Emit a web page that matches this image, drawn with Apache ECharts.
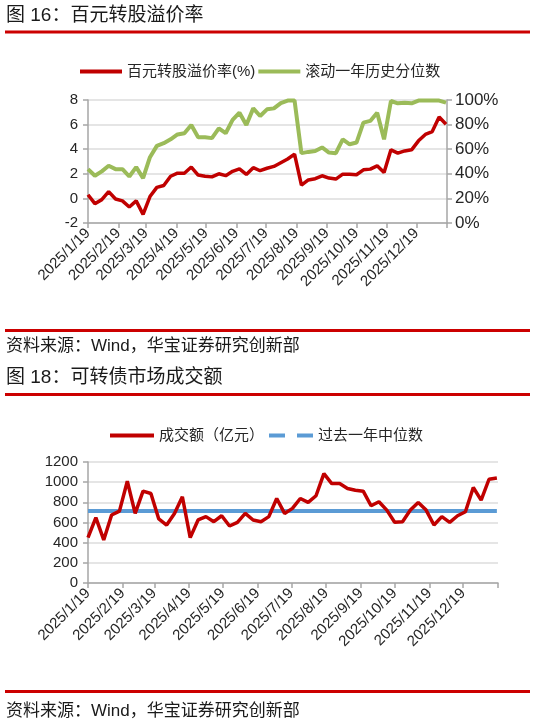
<!DOCTYPE html>
<html>
<head>
<meta charset="utf-8">
<script src="https://cdn.jsdelivr.net/npm/echarts@6/dist/echarts.min.js"></script>
<style>
html,body{margin:0;padding:0;background:#fff;}
#c{width:534px;height:721px;}
</style>
</head>
<body>
<div id="c"></div>
<script>
// ---- data ----
const dates = [
 '2025-01-19','2025-01-26','2025-02-02','2025-02-09','2025-02-16','2025-02-23',
 '2025-03-02','2025-03-09','2025-03-16','2025-03-23','2025-03-30',
 '2025-04-06','2025-04-13','2025-04-20','2025-04-27',
 '2025-05-04','2025-05-11','2025-05-18','2025-05-25',
 '2025-06-01','2025-06-08','2025-06-15','2025-06-22','2025-06-29',
 '2025-07-06','2025-07-13','2025-07-20','2025-07-27',
 '2025-08-03','2025-08-10','2025-08-17','2025-08-24','2025-08-31',
 '2025-09-07','2025-09-14','2025-09-21','2025-09-28',
 '2025-10-05','2025-10-12','2025-10-19','2025-10-26',
 '2025-11-02','2025-11-09','2025-11-16','2025-11-23','2025-11-30',
 '2025-12-07','2025-12-14','2025-12-21','2025-12-28',
 '2026-01-04','2026-01-11','2026-01-18'
];
// 百元转股溢价率 (%)
const premium = [0.3,-0.43,-0.1,0.55,-0.05,-0.2,-0.7,-0.2,-1.3,0.15,0.9,1.05,1.8,2.05,2.05,2.55,1.9,1.8,1.75,2.0,1.85,2.2,2.4,1.95,2.5,2.25,2.45,2.6,2.9,3.2,3.6,1.08,1.5,1.6,1.84,1.65,1.57,1.97,1.97,1.92,2.32,2.38,2.65,2.1,3.95,3.68,3.86,3.95,4.68,5.2,5.43,6.62,6.03];
// 滚动一年历史分位数 (%)
const percentile = [43.8,38.4,42,46.5,43.8,43.8,37.8,45.4,36.5,53.5,62.7,64.9,68,72,73,79.7,69.7,69.7,69,77,73,83.8,89.7,79.7,93.2,87,92.4,93.2,97.5,99.5,99.5,56.8,57.8,58.6,61.4,57.3,56.8,68,64,65.4,81.6,83,89.7,68,99.2,97.3,97.8,97.3,99.5,99.5,99.5,99.5,97.8];
// 成交额（亿元）
const volume = [450,648,427,674,713,1009,690,911,888,635,575,690,855,450,625,658,608,667,565,602,690,625,608,658,838,690,740,838,799,865,1085,986,986,937,920,911,766,806,723,602,608,723,799,723,575,658,602,667,707,947,822,1029,1042];
// 过去一年中位数
const medianValue = 715;
// x tick dates and labels
const tickDates = ['2025-01-19','2025-02-19','2025-03-19','2025-04-19','2025-05-19','2025-06-19','2025-07-19','2025-08-19','2025-09-19','2025-10-19','2025-11-19','2025-12-19','2026-01-19'];
const tickLabels = ['2025/1/19','2025/2/19','2025/3/19','2025/4/19','2025/5/19','2025/6/19','2025/7/19','2025/8/19','2025/9/19','2025/10/19','2025/11/19','2025/12/19'];
const leftTicks1 = [-2,0,2,4,6,8];
const rightTicks1 = [0,20,40,60,80,100];
const yTicks2 = [0,200,400,600,800,1000,1200];

// ---- helpers: dates -> day number since first tick ----
function dayNum(s){ const p = s.split('-').map(Number); return Math.round(Date.UTC(p[0], p[1]-1, p[2]) / 86400000); }
const day0 = dayNum(tickDates[0]);
function dx(s){ return dayNum(s) - day0; }
const tickX = tickDates.map(dx);
const labelX = tickX.slice(0, tickLabels.length);
function fmtX(v){ const i = tickX.indexOf(Math.round(v)); return i >= 0 && i < tickLabels.length ? tickLabels[i] : ''; }

const RED = '#c00000', GREEN = '#9bbb59', BLUE = '#5b9bd5';
const AXIS = '#a6a6a6', GRID = '#dcdcdc', TXT = '#262626';
const LAT = '"Liberation Sans", Arial, "Noto Sans CJK SC", sans-serif';
const CJK = '"Liberation Sans", "Noto Sans CJK SC", sans-serif';

function xAxisFor(gridIndex){
  return {
    type:'value', gridIndex, min: tickX[0], max: tickX[tickX.length-1],
    axisLine:{show:true, onZero:false, lineStyle:{color:AXIS, width:1.5}},
    axisTick:{show:true, length:5, lineStyle:{color:AXIS, width:1.5}, customValues: tickX},
    axisLabel:{rotate:45, margin:8, fontSize:15, fontFamily:LAT, color:TXT,
      customValues: labelX, formatter: fmtX},
    splitLine:{show:false}
  };
}

const chart = echarts.init(document.getElementById('c'), null, {renderer:'canvas'});

function redRule(y){ return {type:'rect', shape:{x:5, y:y, width:525, height:3}, style:{fill:'#cc0000'}}; }
function txt(x, y, s, size){ return {type:'text', x:x, y:y, style:{text:s, fill:'#1a1a1a', font: size + 'px ' + CJK, verticalAlign:'middle', align:'left'}}; }

const option = {
  animation:false,
  backgroundColor:'#fff',
  graphic:[
    txt(6, 16, '图 16：百元转股溢价率', 19),
    redRule(30.5),
    redRule(329),
    txt(6, 346, '资料来源：Wind，华宝证券研究创新部', 17),
    txt(6, 378, '图 18：可转债市场成交额', 19),
    redRule(393),
    redRule(690),
    txt(6, 711, '资料来源：Wind，华宝证券研究创新部', 17)
  ],
  legend:[
    {
      left:75, top:59, itemWidth:42, itemHeight:4, itemGap:3, icon:'rect',
      textStyle:{fontSize:15, fontFamily:CJK, color:TXT},
      data:['百元转股溢价率(%)','滚动一年历史分位数'],
      selectedMode:false
    },
    {
      left:105, top:423, itemWidth:44, itemHeight:4, itemGap:5,
      textStyle:{fontSize:15, fontFamily:CJK, color:TXT},
      data:[
        {name:'成交额（亿元）', icon:'rect'},
        {name:'过去一年中位数', icon:'path://M0,0H16V4H0Z M28,0H44V4H28Z'}
      ],
      selectedMode:false
    }
  ],
  grid:[
    {left:88, right:87, top:100, height:123},
    {left:88, right:36, top:462, height:121}
  ],
  xAxis:[ xAxisFor(0), xAxisFor(1) ],
  yAxis:[
    {type:'value', gridIndex:0, min:leftTicks1[0], max:leftTicks1[leftTicks1.length-1], interval:2,
     axisLine:{show:true, lineStyle:{color:AXIS, width:1.5}},
     axisTick:{show:true, length:5, lineStyle:{color:AXIS, width:1.5}},
     axisLabel:{fontSize:15, fontFamily:LAT, color:TXT, margin:10},
     splitLine:{show:true, lineStyle:{color:GRID, width:1.5}}},
    {type:'value', gridIndex:0, position:'right', min:rightTicks1[0], max:rightTicks1[rightTicks1.length-1], interval:20,
     axisLine:{show:true, lineStyle:{color:AXIS, width:1.5}},
     axisTick:{show:true, length:5, lineStyle:{color:AXIS, width:1.5}},
     axisLabel:{fontSize:17, fontFamily:LAT, color:TXT, margin:8, formatter:'{value}%'},
     splitLine:{show:false}},
    {type:'value', gridIndex:1, min:yTicks2[0], max:yTicks2[yTicks2.length-1], interval:200,
     axisLine:{show:true, lineStyle:{color:AXIS, width:1.5}},
     axisTick:{show:true, length:5, lineStyle:{color:AXIS, width:1.5}},
     axisLabel:{fontSize:15, fontFamily:LAT, color:TXT, margin:10, formatter: v => String(v)},
     splitLine:{show:true, lineStyle:{color:GRID, width:1.5}}}
  ],
  series:[
    {name:'百元转股溢价率(%)', type:'line', xAxisIndex:0, yAxisIndex:0, symbol:'none',
     lineStyle:{color:RED, width:3.5}, itemStyle:{color:RED},
     data: dates.map((d,i)=>[dx(d), premium[i]])},
    {name:'滚动一年历史分位数', type:'line', xAxisIndex:0, yAxisIndex:1, symbol:'none',
     lineStyle:{color:GREEN, width:4}, itemStyle:{color:GREEN},
     data: dates.map((d,i)=>[dx(d), percentile[i]])},
    {name:'过去一年中位数', type:'line', xAxisIndex:1, yAxisIndex:2, symbol:'none', z:1,
     lineStyle:{color:BLUE, width:4}, itemStyle:{color:BLUE},
     data: [[dx(dates[0]), medianValue],[dx(dates[dates.length-1]), medianValue]]},
    {name:'成交额（亿元）', type:'line', xAxisIndex:1, yAxisIndex:2, symbol:'none', z:3,
     lineStyle:{color:RED, width:3.5}, itemStyle:{color:RED},
     data: dates.map((d,i)=>[dx(d), volume[i]])}
  ]
};
chart.setOption(option);
</script>
</body>
</html>
